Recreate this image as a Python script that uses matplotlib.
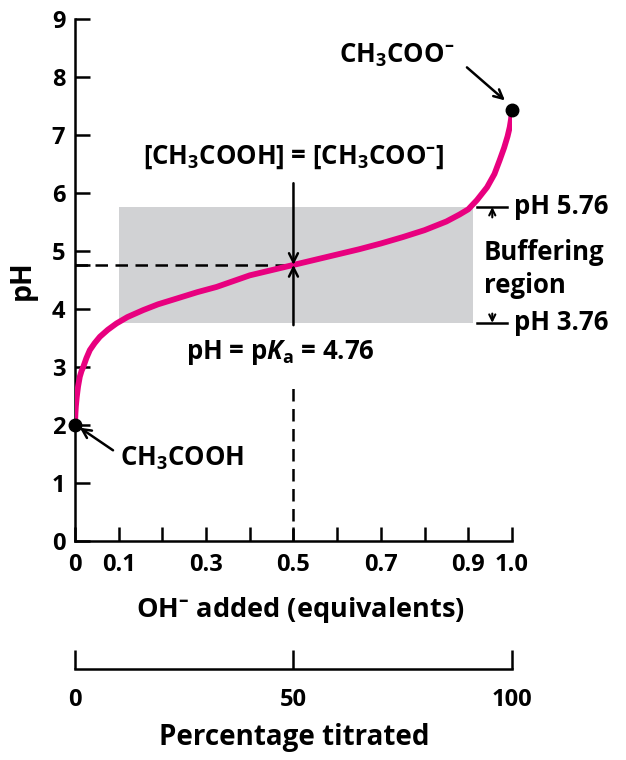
import matplotlib.pyplot as plt
from matplotlib.patches import Rectangle

# titration of acetic acid
oh_added = [0, 0.001, 0.002, 0.004, 0.007, 0.011, 0.015, 0.019, 0.026, 0.034,
            0.045, 0.057, 0.075, 0.095, 0.12, 0.156, 0.19, 0.233, 0.28, 0.324,
            0.4, 0.45, 0.5, 0.55, 0.6, 0.65, 0.7, 0.75, 0.8, 0.85, 0.88, 0.9,
            0.92, 0.943, 0.96, 0.972, 0.982, 0.99, 0.995, 0.998, 1.0]
ph = [2.0, 2.2, 2.32, 2.48, 2.66, 2.83, 2.93, 3.0, 3.15, 3.29,
      3.41, 3.52, 3.64, 3.75, 3.86, 3.98, 4.08, 4.18, 4.29, 4.38,
      4.58, 4.67, 4.76, 4.85, 4.94, 5.03, 5.13, 5.24, 5.36, 5.51, 5.63, 5.72,
      5.88, 6.1, 6.33, 6.57, 6.78, 6.98, 7.14, 7.28, 7.44]

pka = 4.76
buffer_low = 3.76
buffer_high = 5.76
buffer_x = [0.1, 0.91]

x_ticks = [0, 0.1, 0.2, 0.3, 0.4, 0.5, 0.6, 0.7, 0.8, 0.9, 1.0]
x_labels = ["0", "0.1", "", "0.3", "", "0.5", "", "0.7", "", "0.9", "1.0"]
y_ticks = [0, 1, 2, 3, 4, 5, 6, 7, 8, 9]
pct_ticks = [0, 50, 100]

plt.rcParams['font.family'] = ['Open Sans', 'DejaVu Sans']
plt.rcParams['font.weight'] = 'bold'
plt.rcParams['mathtext.default'] = 'regular'
plt.rcParams['mathtext.fontset'] = 'custom'
plt.rcParams['mathtext.it'] = 'Open Sans:italic:bold'
plt.rcParams['mathtext.rm'] = 'Open Sans:bold'

fs_tick = 17
fs = 18.5
fs_title = 19.5
magenta = "#e8007f"
minus = "$^{\u2013}$"   # short superscript dash like the print

fig = plt.figure(figsize=(6.26, 7.6), dpi=100)
ax = fig.add_axes([0.1198, 0.2886, 0.698, 0.686])

ax.add_patch(Rectangle((buffer_x[0], buffer_low), buffer_x[1] - buffer_x[0],
                       buffer_high - buffer_low, color="#d1d2d4", lw=0, zorder=1))

# dashed guides to pKa
ax.plot([0, 0.5], [pka, pka], color="black", lw=1.8, dashes=(5, 3), zorder=2)
ax.plot([0.5, 0.5], [0, 2.65], color="black", lw=1.8, dashes=(5, 3), zorder=2)

ax.plot(oh_added, ph, color=magenta, lw=4.2, solid_capstyle="round",
        solid_joinstyle="round", zorder=3)
ax.plot([oh_added[0], oh_added[-1]], [ph[0], ph[-1]], "o", color="black",
        ms=9, zorder=4, clip_on=False)

arrow = dict(arrowstyle="->", color="black", lw=1.8, mutation_scale=16,
             shrinkA=0, shrinkB=0)
ax.annotate("", xy=(0.5, pka), xytext=(0.5, 6.17), arrowprops=arrow, zorder=5)
ax.annotate("", xy=(0.5, pka), xytext=(0.5, 3.72), arrowprops=arrow, zorder=5)
ax.text(0.5, 6.62, "[CH$_3$COOH] = [CH$_3$COO" + minus + "]", ha="center",
        va="center", fontsize=fs)
ax.text(0.47, 3.25, "pH = p$\\it{K}$$_a$ = 4.76", ha="center", va="center",
        fontsize=fs)

ax.text(0.737, 8.38, "CH$_3$COO" + minus, ha="center", va="center", fontsize=fs)
ax.annotate("", xy=(0.984, 7.6), xytext=(0.897, 8.17), arrowprops=arrow,
            annotation_clip=False)
ax.text(0.103, 1.43, "CH$_3$COOH", ha="left", va="center", fontsize=fs)
ax.annotate("", xy=(0.011, 1.95), xytext=(0.087, 1.56), arrowprops=arrow,
            annotation_clip=False)

# buffering region bracket on the right
small = dict(arrowstyle="->", color="black", lw=1.5, mutation_scale=11,
             shrinkA=0, shrinkB=0)
for level, start in [(buffer_high, 5.58), (buffer_low, 3.92)]:
    ax.plot([0.92, 0.989], [level, level], color="black", lw=1.8, clip_on=False)
    ax.annotate("", xy=(0.955, level), xytext=(0.955, start), arrowprops=small,
                annotation_clip=False)
    ax.text(1.005, level, "pH %.2f" % level, ha="left", va="center", fontsize=fs)
ax.text(0.935, 4.98, "Buffering", ha="left", va="center", fontsize=fs)
ax.text(0.935, 4.41, "region", ha="left", va="center", fontsize=fs)

ax.set_xlim(0, 1.0)
ax.set_ylim(0, 9)
ax.set_xticks(x_ticks)
ax.set_xticklabels(x_labels)
ax.set_yticks(y_ticks + [pka])
ax.set_yticklabels([str(t) for t in y_ticks] + [""])
ax.tick_params(direction="in", width=1.8, labelsize=fs_tick)
ax.tick_params(axis="x", length=10, pad=9)
ax.tick_params(axis="y", length=11, pad=7)
for s in ["top", "right"]:
    ax.spines[s].set_visible(False)
for s in ["left", "bottom"]:
    ax.spines[s].set_linewidth(1.8)
    ax.spines[s].set_capstyle("projecting")
ax.set_facecolor("none")

fig.text(22 / 626, 1 - 280 / 760, "pH", rotation=90, ha="center", va="center",
         fontsize=fs_title + 1)
fig.text(0.48, 1 - 610 / 760, "OH" + minus + " added (equivalents)",
         ha="center", va="center", fontsize=fs_title)

# second scale: percentage titrated
ax2 = fig.add_axes([0.1198, 1 - 669 / 760, 0.698, 0.0001])
ax2.set_xlim(0, 100)
ax2.set_xticks(pct_ticks)
ax2.set_yticks([])
ax2.tick_params(direction="in", width=1.8, length=14, pad=14, labelsize=fs_tick)
for s in ["top", "right", "left"]:
    ax2.spines[s].set_visible(False)
ax2.spines["bottom"].set_linewidth(1.8)
ax2.set_facecolor("none")
fig.text(0.47, 1 - 738 / 760, "Percentage titrated", ha="center", va="center",
         fontsize=fs_title + 0.5)

fig.savefig("out.png", dpi=100)
